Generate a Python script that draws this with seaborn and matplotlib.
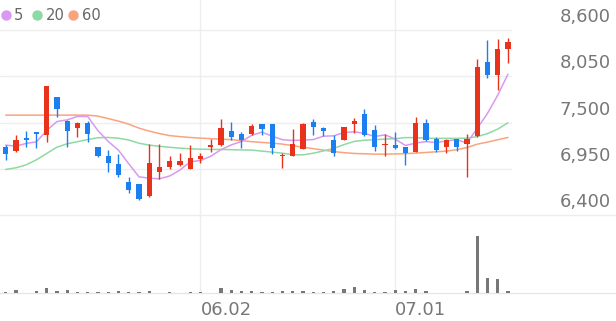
import numpy as np
import pandas as pd
import matplotlib
matplotlib.use("Agg")
import matplotlib.pyplot as plt
import matplotlib.transforms as mtrans
from matplotlib.lines import Line2D
import seaborn as sns

# ---------------- data ----------------
opens = [7210, 7160, 7320, 7390, 7360, 7800, 7520, 7440, 7500, 7210,
         7100, 7010, 6800, 6770, 6630, 6910, 6970, 7000, 6950, 7070,
         7210, 7230, 7400, 7370, 7370, 7480, 7480, 7100, 7110, 7190,
         7510, 7440, 7300, 7300, 7480, 7600, 7410, 7230, 7240, 7210,
         7150, 7500, 7310, 7210, 7310, 7250, 7340, 8220, 8070, 8380]
closes = [7130, 7300, 7300, 7370, 7940, 7660, 7400, 7500, 7370, 7100,
          7020, 6880, 6700, 6590, 7020, 6980, 7050, 7050, 7080, 7100,
          7230, 7440, 7330, 7290, 7460, 7420, 7200, 7120, 7250, 7480,
          7450, 7400, 7140, 7450, 7520, 7360, 7210, 7240, 7200, 7140,
          7500, 7300, 7180, 7300, 7210, 7310, 8160, 8070, 8380, 8460]
highs = [7230, 7360, 7400, 7390, 7940, 7800, 7530, 7510, 7520, 7210,
         7180, 7130, 6860, 6770, 7250, 7250, 7100, 7140, 7230, 7140,
         7310, 7540, 7510, 7390, 7480, 7480, 7480, 7140, 7420, 7500,
         7540, 7450, 7350, 7450, 7560, 7660, 7470, 7370, 7390, 7210,
         7570, 7540, 7330, 7310, 7310, 7370, 8260, 8480, 8490, 8500]
lows = [7060, 7150, 7210, 7200, 7270, 7570, 7210, 7330, 7270, 7090,
        6920, 6860, 6660, 6580, 6620, 6830, 6950, 6990, 6950, 7020,
        7150, 7220, 7290, 7200, 7360, 7350, 7130, 6960, 7110, 7190,
        7360, 7340, 7110, 7300, 7380, 7340, 7170, 7100, 7190, 7000,
        7150, 7280, 7150, 7140, 7170, 6850, 7330, 8030, 7890, 8210]
volumes = [10, 30, 7, 23, 57, 20, 37, 17, 10, 10,
           17, 27, 10, 10, 20, 7, 10, 7, 10, 10,
           7, 53, 30, 23, 23, 17, 13, 20, 20, 27,
           17, 13, 20, 43, 63, 33, 13, 10, 30, 20,
           47, 20, 7, 7, 7, 23, 577, 150, 140, 20]
ma5_head = [7234, 7222, 7254, 7273]
ma20 = [6945, 6965, 7000, 7060, 7135, 7210, 7250, 7275, 7300, 7322,
        7325, 7316, 7295, 7257, 7234, 7220, 7208, 7198, 7191, 7186,
        7183, 7183, 7180, 7177, 7175, 7163, 7151, 7138, 7120, 7118,
        7138, 7165, 7195, 7240, 7278, 7292, 7299, 7305, 7311, 7323,
        7323, 7317, 7314, 7314, 7314, 7317, 7335, 7371, 7424, 7499]
ma60 = [7590, 7590, 7590, 7590, 7590, 7590, 7590, 7590, 7590, 7578,
        7549, 7519, 7483, 7436, 7400, 7371, 7347, 7335, 7325, 7317,
        7311, 7305, 7299, 7287, 7275, 7266, 7258, 7246, 7228, 7210,
        7192, 7175, 7157, 7145, 7135, 7131, 7127, 7127, 7129, 7133,
        7139, 7147, 7155, 7163, 7180, 7205, 7245, 7270, 7298, 7325]
ma_labels = ["5", "20", "60"]
x_tick_labels = ["06.02", "07.01"]
x_tick_index = [19, 38]
y_ticks = [6400, 6950, 7500, 8050, 8600]

# ---------------- style ----------------
RED = "#e8321b"
BLUE = "#1b7ff0"
MA_COLORS = ["#d79af0", "#8fd9a3", "#f9a47e"]
GRID = "#eeeeee"
TXT = "#777777"

sns.set_theme(style="white")
plt.rcParams["font.family"] = ["DejaVu Sans"]

W, H = 616, 321
fig = plt.figure(figsize=(W / 100, H / 100), dpi=100)

n = len(closes)
df = pd.DataFrame(dict(i=np.arange(n), open=opens, high=highs, low=lows,
                       close=closes, volume=volumes, ma20=ma20, ma60=ma60))
df["ma5"] = list(ma5_head) + list(df["close"].rolling(5).mean().iloc[len(ma5_head):])

# layout (pixels)
plot_w = 512
x_first = 5.7
step = 10.25
xlim = (-x_first / step, (plot_w - x_first) / step)
price_bottom_px = 215.4
vol_base_px = 293.3
px_per_won = 46.3 / 550.0
price_top = y_ticks[-1] + 30 / px_per_won

ax = fig.add_axes([0, (H - price_bottom_px) / H, plot_w / W, price_bottom_px / H])
axv = fig.add_axes([0, (H - vol_base_px) / H, plot_w / W, (vol_base_px - price_bottom_px) / H])

# grid
for v in y_ticks[1:]:
    ax.axhline(v, color=GRID, lw=1, zorder=0)
for xi in x_tick_index:
    ax.axvline(xi, color=GRID, lw=1, zorder=0)
    axv.axvline(xi, color=GRID, lw=1, zorder=0)
fig.add_artist(Line2D([0, 1], [1 - price_bottom_px / H] * 2, color=GRID, lw=1,
                      transform=fig.transFigure, zorder=-1))
fig.add_artist(Line2D([0, 1], [1 - vol_base_px / H] * 2, color="#e6e6e6", lw=1,
                      transform=fig.transFigure, zorder=-1))

# moving averages
for col, c in zip(["ma60", "ma20", "ma5"], MA_COLORS[::-1]):
    sns.lineplot(data=df, x="i", y=col, ax=ax, color=c, lw=1.1, zorder=2)

# candles
up = df["close"] >= df["open"]
cols = np.where(up, RED, BLUE)
ax.vlines(df["i"], df["low"], df["high"], colors=cols, lw=1.0, zorder=3)
body_lo = np.minimum(df["open"], df["close"])
body_h = np.maximum((df["close"] - df["open"]).abs(), 18)
ax.bar(df["i"], body_h, bottom=body_lo, width=0.52, color=cols, zorder=4, linewidth=0)
ax.set_xlim(*xlim)
ax.set_ylim(y_ticks[0], price_top)
ax.axis("off")

# volume
sns.barplot(data=df, x="i", y="volume", native_scale=True, color="#777777",
            saturation=1, width=0.3, ax=axv, zorder=3, linewidth=0)
for p in axv.patches:
    xc = p.get_x() + p.get_width() / 2
    p.set_width(0.32)
    p.set_x(xc - 0.16)
axv.set_xlim(*xlim)
axv.set_ylim(0, max(volumes) * (vol_base_px - price_bottom_px) / 57.7)
axv.axis("off")

# y labels (above each gridline, right side)
ytrans = mtrans.blended_transform_factory(fig.transFigure, ax.transData) + \
    mtrans.ScaledTranslation(0, 13 / 100, fig.dpi_scale_trans)
for v in y_ticks:
    ax.text(611 / W, v, f"{v:,}", transform=ytrans, ha="right", va="center",
            fontsize=13, color=TXT)

# x labels
xtrans = mtrans.blended_transform_factory(axv.transData, fig.transFigure)
for xi, lab in zip(x_tick_index, x_tick_labels):
    axv.text(xi, 1 - 310 / H, lab, transform=xtrans, ha="left", va="center",
             fontsize=13, color=TXT)

# legend
leg_dot_x = [6.2, 36.7, 73.3]
leg_txt_x = [14.0, 45.5, 82.0]
for c, lab, dx, tx in zip(MA_COLORS, ma_labels, leg_dot_x, leg_txt_x):
    fig.add_artist(Line2D([dx / W], [1 - 15.3 / H], marker="o", ls="", markersize=6.5,
                          color=c, transform=fig.transFigure))
    fig.text(tx / W, 1 - 15.3 / H, lab, ha="left", va="center", fontsize=10.6, color="#666666")

fig.savefig("out.png", dpi=100)
